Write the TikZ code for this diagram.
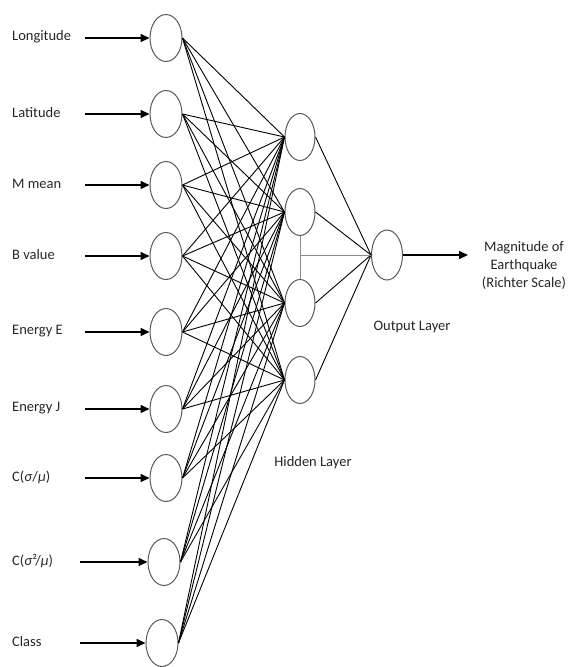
\documentclass[tikz,border=0pt]{standalone}
\usepackage{fontspec}
\setmainfont{Carlito}
\usetikzlibrary{shapes.geometric,arrows.meta}
\begin{document}
\begin{tikzpicture}[x=1pt,y=-1pt,
  neuron/.style={ellipse,draw=black!65,line width=1pt,minimum width=32pt,minimum height=47pt,inner sep=0pt},
  lab/.style={font=\fontsize{14.5}{18}\selectfont,inner sep=0pt,text=black!85},
  inarrow/.style={line width=1.6pt,-{Triangle[length=9pt,width=8pt]}},
  link/.style={line width=0.9pt},
  faint/.style={line width=0.8pt,draw=black!45}]
\useasboundingbox (0,0) rectangle (568,667);
% input layer
\foreach \n/\x/\y/\ax/\t in {1/166/38/85/{Longitude},2/166/114/85/{Latitude},3/166/185/85/{M mean},4/166/256/85/{B value},5/166/332/85/{Energy E},6/166/409/85/{Energy J},7/166/478/85/{C(\textit{σ}/\textit{μ})},8/164/562/80/{C(\textit{σ}²/\textit{μ})},9/162/643/80/{Class}}{
  \node[neuron] (i\n) at (\x,\y) {};
  \node[lab,anchor=west] (l\n) at (12,\y-1) {\t};
  \coordinate (a\n) at (\ax,\y);
  \draw[inarrow] (a\n) -- (i\n.west);
}
% hidden layer
\foreach \n/\y in {1/137,2/212,3/303,4/380}{
  \node[neuron,minimum width=30pt] (h\n) at (300,\y) {};
}
% output
\node[neuron,minimum width=31pt,minimum height=50pt] (o) at (387,255) {};
% links
\foreach \i in {1,...,9}{
  \foreach \j in {1,...,4}{
    \draw[link] (i\i.east) -- (h\j.west);
  }
}
\foreach \j in {1,...,4}{
  \draw[link] (h\j.east) -- (o.west);
}
\draw[faint] (h2.south) -- (h3.north);
\coordinate (m) at (300,255);
\draw[faint] (m) -- (o.west);
\coordinate (oe) at (468,255);
\draw[inarrow] (o.east) -- (oe);
% labels
\node[lab,align=center] (out) at (524,265) {Magnitude of\\Earthquake\\(Richter Scale)};
\node[lab] (ol) at (412,327) {Output Layer};
\node[lab] (hl) at (313,463) {Hidden Layer};
\end{tikzpicture}
\end{document}
